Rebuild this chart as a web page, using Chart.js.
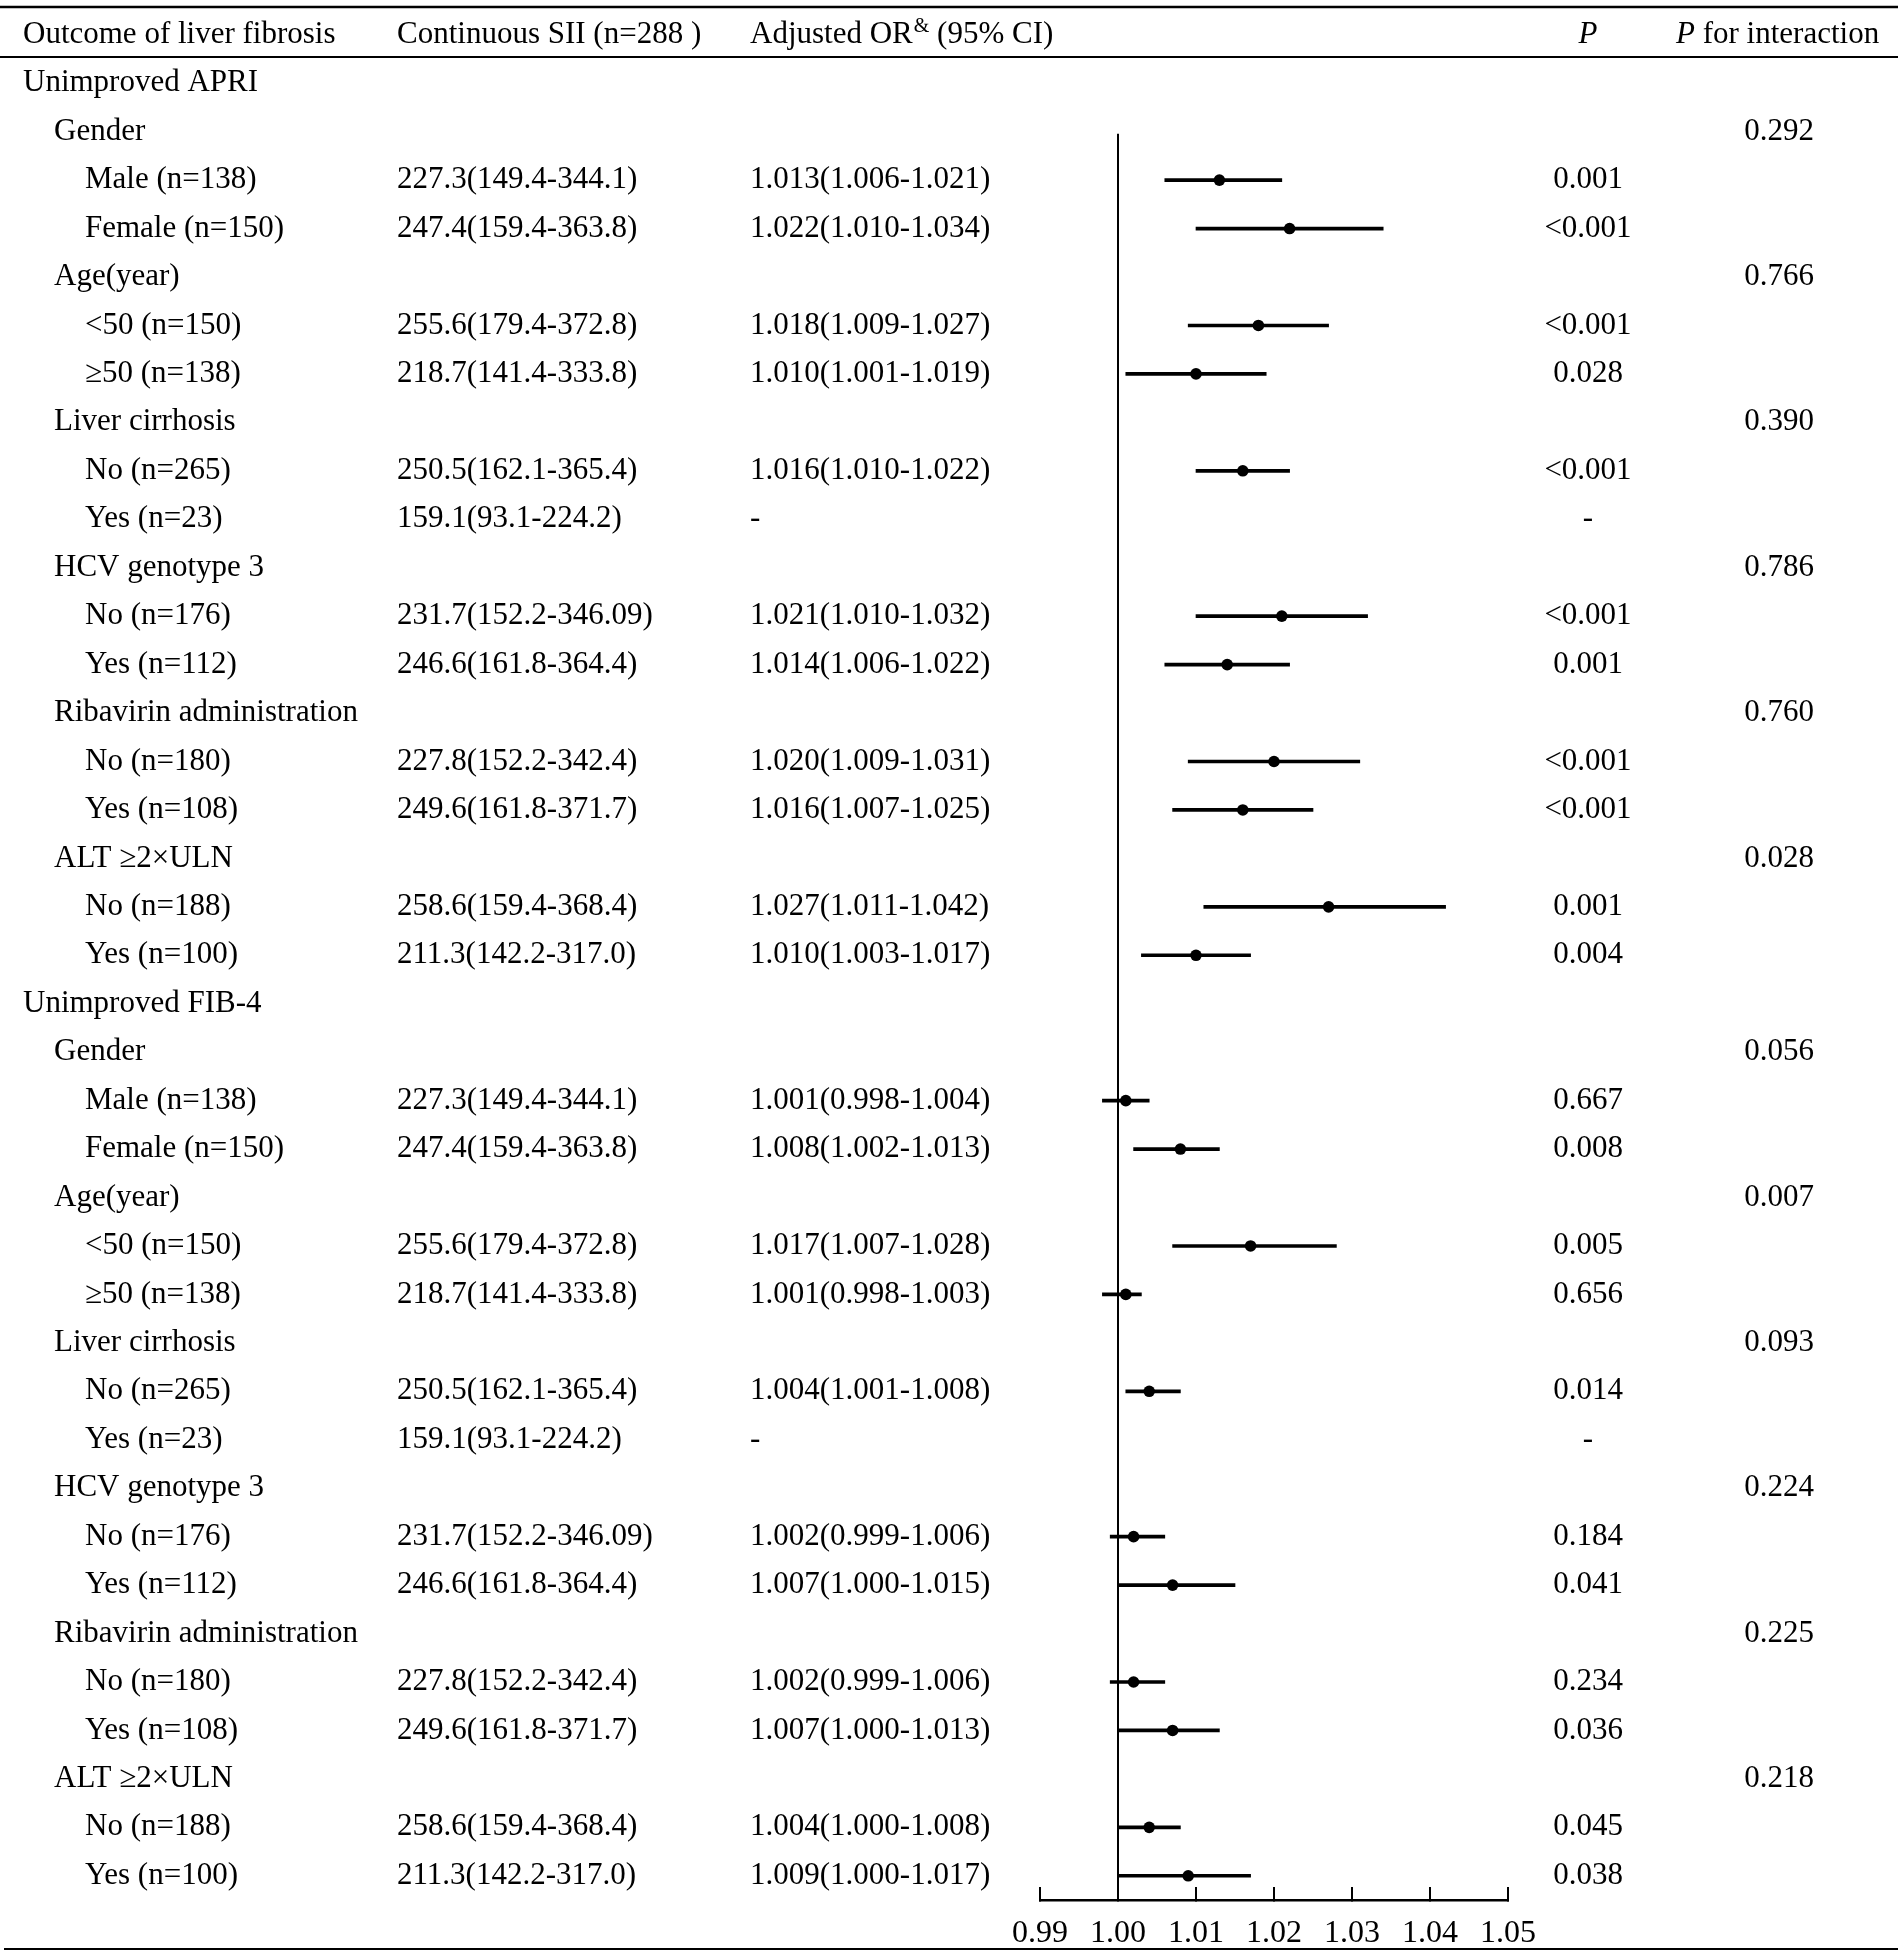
<!DOCTYPE html>
<html>
<head>
<meta charset="utf-8">
<title>SII and liver fibrosis forest plot</title>
<script src="https://cdn.jsdelivr.net/npm/chart.js@4.4.1/dist/chart.umd.min.js"></script>
<style>
  html, body { margin: 0; padding: 0; background: #fff; overflow: hidden; }
  #wrap { position: relative; width: 1902px; height: 1956px; }
</style>
</head>
<body>
<div id="wrap"><canvas id="forest"></canvas></div>
<script>
// table rows, top to bottom
const rowLabels = [
  "Unimproved APRI",
  "Gender", "Male (n=138)", "Female (n=150)",
  "Age(year)", "<50 (n=150)", "\u226550 (n=138)",
  "Liver cirrhosis", "No (n=265)", "Yes (n=23)",
  "HCV genotype 3", "No (n=176)", "Yes (n=112)",
  "Ribavirin administration", "No (n=180)", "Yes (n=108)",
  "ALT \u22652\u00d7ULN", "No (n=188)", "Yes (n=100)",
  "Unimproved FIB-4",
  "Gender", "Male (n=138)", "Female (n=150)",
  "Age(year)", "<50 (n=150)", "\u226550 (n=138)",
  "Liver cirrhosis", "No (n=265)", "Yes (n=23)",
  "HCV genotype 3", "No (n=176)", "Yes (n=112)",
  "Ribavirin administration", "No (n=180)", "Yes (n=108)",
  "ALT \u22652\u00d7ULN", "No (n=188)", "Yes (n=100)"
];
const rowIndent = [0, 1,2,2, 1,2,2, 1,2,2, 1,2,2, 1,2,2, 1,2,2,
                   0, 1,2,2, 1,2,2, 1,2,2, 1,2,2, 1,2,2, 1,2,2];

const siiText = [
  "", "", "227.3(149.4-344.1)", "247.4(159.4-363.8)",
  "", "255.6(179.4-372.8)", "218.7(141.4-333.8)",
  "", "250.5(162.1-365.4)", "159.1(93.1-224.2)",
  "", "231.7(152.2-346.09)", "246.6(161.8-364.4)",
  "", "227.8(152.2-342.4)", "249.6(161.8-371.7)",
  "", "258.6(159.4-368.4)", "211.3(142.2-317.0)",
  "", "", "227.3(149.4-344.1)", "247.4(159.4-363.8)",
  "", "255.6(179.4-372.8)", "218.7(141.4-333.8)",
  "", "250.5(162.1-365.4)", "159.1(93.1-224.2)",
  "", "231.7(152.2-346.09)", "246.6(161.8-364.4)",
  "", "227.8(152.2-342.4)", "249.6(161.8-371.7)",
  "", "258.6(159.4-368.4)", "211.3(142.2-317.0)"
];
const orText = [
  "", "", "1.013(1.006-1.021)", "1.022(1.010-1.034)",
  "", "1.018(1.009-1.027)", "1.010(1.001-1.019)",
  "", "1.016(1.010-1.022)", "-",
  "", "1.021(1.010-1.032)", "1.014(1.006-1.022)",
  "", "1.020(1.009-1.031)", "1.016(1.007-1.025)",
  "", "1.027(1.011-1.042)", "1.010(1.003-1.017)",
  "", "", "1.001(0.998-1.004)", "1.008(1.002-1.013)",
  "", "1.017(1.007-1.028)", "1.001(0.998-1.003)",
  "", "1.004(1.001-1.008)", "-",
  "", "1.002(0.999-1.006)", "1.007(1.000-1.015)",
  "", "1.002(0.999-1.006)", "1.007(1.000-1.013)",
  "", "1.004(1.000-1.008)", "1.009(1.000-1.017)"
];
const pText = [
  "", "", "0.001", "<0.001",
  "", "<0.001", "0.028",
  "", "<0.001", "-",
  "", "<0.001", "0.001",
  "", "<0.001", "<0.001",
  "", "0.001", "0.004",
  "", "", "0.667", "0.008",
  "", "0.005", "0.656",
  "", "0.014", "-",
  "", "0.184", "0.041",
  "", "0.234", "0.036",
  "", "0.045", "0.038"
];
const pInteraction = [
  "", "0.292", "", "",
  "0.766", "", "",
  "0.390", "", "",
  "0.786", "", "",
  "0.760", "", "",
  "0.028", "", "",
  "", "0.056", "", "",
  "0.007", "", "",
  "0.093", "", "",
  "0.224", "", "",
  "0.225", "", "",
  "0.218", "", ""
];

// odds ratios and 95% CI drawn in the plot
const orValues = [
  null, null, 1.013, 1.022, null, 1.018, 1.010, null, 1.016, null,
  null, 1.021, 1.014, null, 1.020, 1.016, null, 1.027, 1.010,
  null, null, 1.001, 1.008, null, 1.017, 1.001, null, 1.004, null,
  null, 1.002, 1.007, null, 1.002, 1.007, null, 1.004, 1.009
];
const ciLower = [
  null, null, 1.006, 1.010, null, 1.009, 1.001, null, 1.010, null,
  null, 1.010, 1.006, null, 1.009, 1.007, null, 1.011, 1.003,
  null, null, 0.998, 1.002, null, 1.007, 0.998, null, 1.001, null,
  null, 0.999, 1.000, null, 0.999, 1.000, null, 1.000, 1.000
];
const ciUpper = [
  null, null, 1.021, 1.034, null, 1.027, 1.019, null, 1.022, null,
  null, 1.032, 1.022, null, 1.031, 1.025, null, 1.042, 1.017,
  null, null, 1.004, 1.013, null, 1.028, 1.003, null, 1.008, null,
  null, 1.006, 1.015, null, 1.006, 1.013, null, 1.008, 1.017
];

const xTicks = [0.99, 1.00, 1.01, 1.02, 1.03, 1.04, 1.05];
const refValue = 1.00;

const FONT_FAMILY = '"Liberation Serif", "Times New Roman", serif';
const BODY_SIZE = 31;

// header row + rules + the text columns, placed on the y scale's rows
const tablePlugin = {
  id: 'tableText',
  beforeDatasetsDraw(chart) {
    const ctx = chart.ctx;
    const xs = chart.scales.x;
    const ys = chart.scales.y;
    const rx = xs.getPixelForValue(refValue);
    ctx.save();
    ctx.strokeStyle = '#000';
    ctx.lineWidth = 2;
    ctx.beginPath();
    ctx.moveTo(rx, ys.getPixelForValue(1) + 2);
    ctx.lineTo(rx, chart.chartArea.bottom);
    ctx.stroke();
    ctx.restore();
  },
  afterDraw(chart) {
    const ctx = chart.ctx;
    const ys = chart.scales.y;
    ctx.save();
    ctx.fillStyle = '#000';
    ctx.textBaseline = 'middle';
    const body = BODY_SIZE + 'px ' + FONT_FAMILY;
    const ital = 'italic ' + BODY_SIZE + 'px ' + FONT_FAMILY;

    // rules
    ctx.strokeStyle = '#000';
    ctx.lineWidth = 2.5;
    ctx.beginPath(); ctx.moveTo(0, 7); ctx.lineTo(1898, 7); ctx.stroke();
    ctx.lineWidth = 2;
    ctx.beginPath(); ctx.moveTo(0, 57); ctx.lineTo(1898, 57); ctx.stroke();
    ctx.beginPath(); ctx.moveTo(4, 1949); ctx.lineTo(1898, 1949); ctx.stroke();

    // header
    const hy = 35;
    ctx.font = body;
    ctx.textAlign = 'left';
    ctx.fillText('Outcome of liver fibrosis', 23, hy);
    ctx.fillText('Continuous SII (n=288 )', 397, hy);
    ctx.fillText('Adjusted OR', 750, hy);
    let w = ctx.measureText('Adjusted OR').width;
    ctx.font = '20px ' + FONT_FAMILY;
    ctx.fillText('&', 750 + w + 1, hy - 8);
    const wa = ctx.measureText('&').width;
    ctx.font = body;
    ctx.fillText(' (95% CI)', 750 + w + wa + 1, hy);
    ctx.font = ital;
    ctx.textAlign = 'center';
    ctx.fillText('P', 1588, hy);
    ctx.textAlign = 'left';
    ctx.fillText('P', 1676, hy);
    w = ctx.measureText('P').width;
    ctx.font = body;
    ctx.fillText(' for interaction', 1676 + w, hy);

    // rows
    rowLabels.forEach((label, i) => {
      const py = ys.getPixelForValue(i);
      ctx.textAlign = 'left';
      ctx.fillText(label, 23 + rowIndent[i] * 31, py);
      if (siiText[i]) ctx.fillText(siiText[i], 397, py);
      if (orText[i]) ctx.fillText(orText[i], 750, py);
      ctx.textAlign = 'center';
      if (pText[i]) ctx.fillText(pText[i], 1588, py);
      if (pInteraction[i]) ctx.fillText(pInteraction[i], 1779, py);
    });
    ctx.restore();
  }
};

const ciRanges = ciLower.map((lo, i) => (lo === null ? null : [lo, ciUpper[i]]));

new Chart(document.getElementById('forest'), {
  type: 'bar',
  data: {
    labels: rowLabels,
    datasets: [
      {
        type: 'bar',
        label: '95% CI',
        data: ciRanges,
        backgroundColor: '#000',
        borderWidth: 0,
        barThickness: 3,
        order: 2
      },
      {
        type: 'line',
        label: 'Adjusted OR',
        data: orValues,
        showLine: false,
        pointRadius: 5.8,
        pointHoverRadius: 5.8,
        pointBackgroundColor: '#000',
        pointBorderWidth: 0,
        order: 1
      }
    ]
  },
  options: {
    indexAxis: 'y',
    responsive: true,
    maintainAspectRatio: false,
    animation: false,
    layout: { padding: { left: 1040, right: 394, top: 59, bottom: 0 } },
    plugins: {
      legend: { display: false },
      tooltip: { enabled: false }
    },
    scales: {
      y: {
        type: 'category',
        display: false,
        offset: true
      },
      x: {
        type: 'linear',
        position: 'bottom',
        min: 0.99,
        max: 1.05,
        afterBuildTicks: (s) => { s.ticks = xTicks.map(v => ({ value: v })); },
        afterFit: (s) => { s.height = 56; },
        border: { display: true, color: '#000', width: 2.5 },
        grid: {
          display: true,
          drawOnChartArea: false,
          drawTicks: true,
          tickLength: -13,
          color: '#000',
          lineWidth: 2
        },
        ticks: {
          padding: 27,
          color: '#000',
          maxRotation: 0,
          autoSkip: false,
          font: { family: FONT_FAMILY, size: 32 },
          callback: (v) => Number(v).toFixed(2)
        }
      }
    }
  },
  plugins: [tablePlugin]
});
</script>
</body>
</html>
